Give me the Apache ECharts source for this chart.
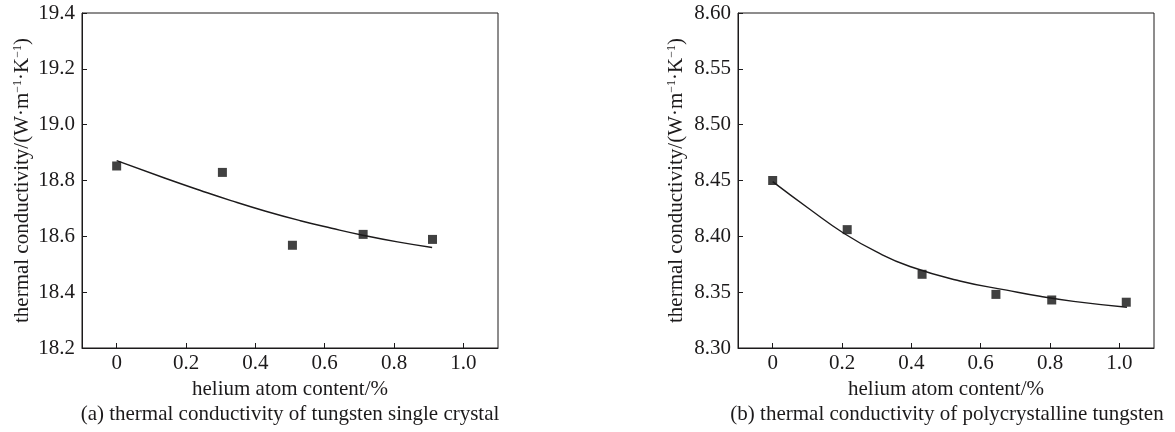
<!DOCTYPE html>
<html>
<head>
<meta charset="utf-8">
<script src="https://cdn.jsdelivr.net/npm/echarts@6/dist/echarts.min.js"></script>
<style>
  html, body { margin: 0; padding: 0; background: #fff; }
  #chart { width: 1175px; height: 432px; }
</style>
</head>
<body>
<div id="chart"></div>
<script>
// (a) tungsten single crystal
var heliumA = [0, 0.305, 0.507, 0.711, 0.911];
var conductA = [18.852, 18.829, 18.568, 18.607, 18.589];
var fitXA = [0, 0.14, 0.24, 0.33, 0.43, 0.53, 0.62, 0.71, 0.81, 0.91];
var fitYA = [18.871, 18.808, 18.765, 18.728, 18.690, 18.656, 18.629, 18.604, 18.580, 18.560];

// (b) polycrystalline tungsten
var heliumB = [0, 0.215, 0.431, 0.644, 0.805, 1.020];
var conductB = [8.450, 8.406, 8.366, 8.348, 8.343, 8.341];
var fitXB = [0, 0.108, 0.204, 0.300, 0.396, 0.540, 0.675, 0.771, 0.868, 1.022];
var fitYB = [8.449, 8.424, 8.403, 8.386, 8.373, 8.360, 8.3518, 8.3463, 8.3418, 8.3365];

var xTicks = [0, 0.2, 0.4, 0.6, 0.8, 1.0];
var xName = 'helium atom content/%';
var yName = 'thermal conductivity/(W·m{sup|−1}·K{sup|−1})';
var captionA = '(a) thermal conductivity of tungsten single crystal';
var captionB = '(b) thermal conductivity of polycrystalline tungsten';

var ink = '#1c1a1b';
var font = '"Liberation Serif", "Times New Roman", serif';

function pairs(xs, ys) {
    var out = [];
    for (var i = 0; i < xs.length; i++) {
        out.push([xs[i], ys[i]]);
    }
    return out;
}

function xAxisCfg(idx) {
    return {
        type: 'value', gridIndex: idx, min: -0.1, max: 1.1,
        name: xName, nameLocation: 'middle', nameGap: 30,
        nameTextStyle: { fontFamily: font, fontSize: 21, color: ink },
        axisLine: { onZero: false, lineStyle: { color: ink, width: 1 } },
        axisTick: { inside: true, length: 5, customValues: xTicks, lineStyle: { color: ink } },
        axisLabel: {
            customValues: xTicks, margin: 5,
            fontFamily: font, fontSize: 21, color: ink,
            formatter: function (v) { return v === 0 ? '0' : v.toFixed(1); }
        },
        splitLine: { show: false }
    };
}

function yAxisCfg(idx, min, max, step, digits, gap) {
    return {
        type: 'value', gridIndex: idx, min: min, max: max, interval: step,
        name: yName, nameLocation: 'middle', nameGap: gap,
        nameTextStyle: {
            fontFamily: font, fontSize: 21, color: ink,
            rich: { sup: { fontFamily: font, fontSize: 12, color: ink, verticalAlign: 'top', lineHeight: 21 } }
        },
        axisLine: { onZero: false, lineStyle: { color: ink, width: 1 } },
        axisTick: { inside: true, length: 5, lineStyle: { color: ink } },
        axisLabel: {
            margin: 7, fontFamily: font, fontSize: 21, color: ink,
            formatter: function (v) { return v.toFixed(digits); }
        },
        splitLine: { show: false }
    };
}

var chart = echarts.init(document.getElementById('chart'));
var option = {
    animation: false,
    backgroundColor: '#fff',
    grid: [
        { left: 82, top: 13, width: 416, height: 335, show: true, borderColor: ink, borderWidth: 1 },
        { left: 738, top: 13, width: 416, height: 335, show: true, borderColor: ink, borderWidth: 1 }
    ],
    xAxis: [xAxisCfg(0), xAxisCfg(1)],
    yAxis: [
        yAxisCfg(0, 18.2, 19.4, 0.2, 1, 49),
        yAxisCfg(1, 8.30, 8.60, 0.05, 2, 51)
    ],
    series: [
        {
            type: 'line', xAxisIndex: 0, yAxisIndex: 0, smooth: true, showSymbol: false,
            lineStyle: { color: ink, width: 1.4 }, data: pairs(fitXA, fitYA)
        },
        {
            type: 'scatter', xAxisIndex: 0, yAxisIndex: 0, symbol: 'rect', symbolSize: 9,
            itemStyle: { color: '#111' }, data: pairs(heliumA, conductA)
        },
        {
            type: 'line', xAxisIndex: 1, yAxisIndex: 1, smooth: true, showSymbol: false,
            lineStyle: { color: ink, width: 1.4 }, data: pairs(fitXB, fitYB)
        },
        {
            type: 'scatter', xAxisIndex: 1, yAxisIndex: 1, symbol: 'rect', symbolSize: 9,
            itemStyle: { color: '#111' }, data: pairs(heliumB, conductB)
        }
    ],
    graphic: [
        {
            type: 'text', x: 290, y: 414,
            style: { text: captionA, fontFamily: font, fontSize: 21, fill: ink, align: 'center', verticalAlign: 'middle' }
        },
        {
            type: 'text', x: 947, y: 414,
            style: { text: captionB, fontFamily: font, fontSize: 21, fill: ink, align: 'center', verticalAlign: 'middle' }
        }
    ]
};
chart.setOption(option);
</script>
</body>
</html>
